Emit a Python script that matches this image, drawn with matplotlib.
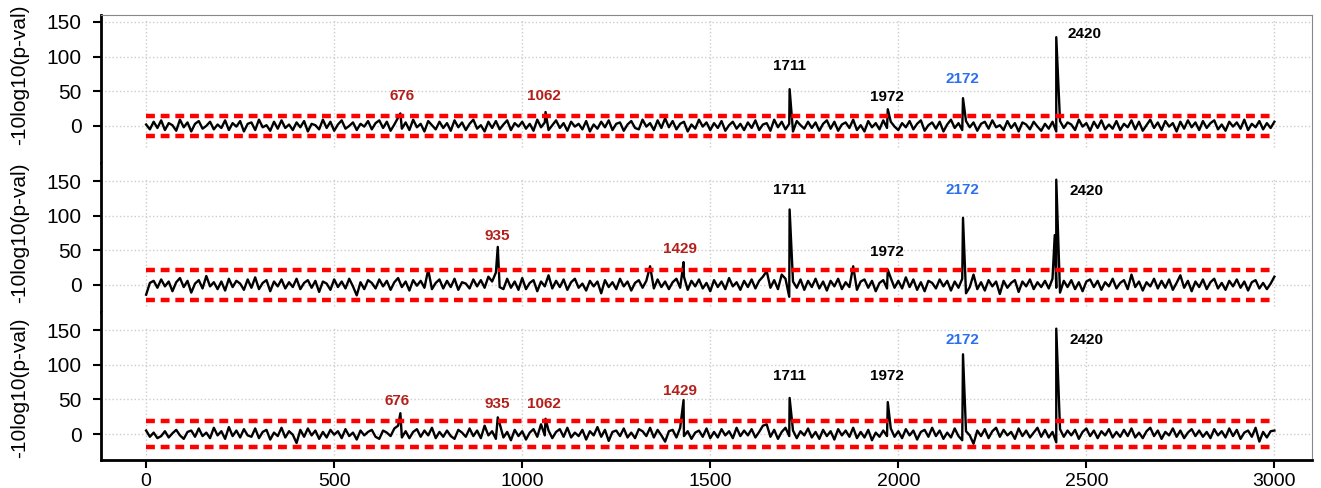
import numpy as np
import matplotlib
matplotlib.use("Agg")
import matplotlib.pyplot as plt

plt.rcParams['font.family'] = ['Liberation Sans', 'DejaVu Sans']

# positions of the noise samples (every 10)
pos = np.arange(0, 3001, 10)

noise1 = [2, -5, 6, -3, 8, -6, 4, 1, -7, 9, -2, 5, -8, 3, 7, -4, 0, 6, -5, 2,
          -3, 8, -6, 4, -1, 7, -8, 3, 5, -6, 9, -2, 1, -7, 6, -4, 8, -3, 2, -6,
          5, -2, 7, -8, 3, 1, -5, 9, -3, 6, -7, 2, 8, -4, 0, 5, -6, 3, -1, 7,
          -5, 4, 8, -3, 6, -7, 2, 12, -4, 5, -6, 9, -2, 3, -8, 7, 1, -5, 6, -3,
          4, -7, 8, -2, 5, -6, 3, 9, -4, 1, -8, 6, -3, 7, -5, 2, 8, -6, 4, -1,
          6, -4, 3, -7, 9, -2, 5, -6, 1, 8, -3, 4, -7, 6, -1, 3, -5, 7, -8, 2,
          -4, 6, -2, 8, -6, 3, 5, -7, 2, 7, -3, -5, 9, -1, 4, -6, 8, -3, 11, -2,
          7, -5, 3, 6, -8, 2, -4, 9, -1, 5, -6, 4, -3, 7, -7, 1, 6, -4, 3, -6,
          5, -3, 8, -6, 2, 4, -7, 9, -2, 6, -5, 3, -8, 7, 1, -4, 6, -3, 5, -7,
          3, 8, -4, 6, -7, 2, 5, -3, 9, -6, 1, -8, 7, -2, 4, -5, 8, -3, 6, -1,
          -6, 4, -2, 7, -5, 3, 8, -7, 1, 5, -4, 6, -8, 2, 9, -3, 4, -6, 7, -2,
          5, -7, 3, 6, -4, 8, -2, 1, -6, 7, -3, 4, -8, 5, 2, -5, 6, -1, -7, 3,
          -4, 6, -8, 7, -3, 5, 2, -6, 9, -1, 4, -7, 6, -3, 8, -5, 2, -4, 7, -6,
          3, -2, 8, -5, 6, -7, 1, 9, -3, 5, -6, 7, -1, 4, -8, 6, -4, 8, -2, 5,
          -6, 7, -3, 4, 8, -5, 2, -7, 6, -1, 5, -4, 9, -6, 3, -2, 7, -5, 4, -3,
          6]

noise2 = [-14, 3, 6, -4, 8, -2, 5, -9, 4, 10, -3, 6, -11, 2, 7, -5, 13, -2, 4, -6,
          5, -8, 9, -3, 6, 2, -7, 8, -4, 11, -6, 3, 7, -9, 5, -2, 8, -5, 4, -3,
          9, -6, 3, 7, -4, 6, -10, 5, 2, -7, 8, -3, 5, -5, 9, -2, -15, 4, -6, 7,
          3, -5, 8, -2, 6, -7, 4, 10, -3, 5, -8, 7, -1, 6, -4, 22, -6, 3, 8, -5,
          6, -3, 9, -7, 4, 2, -5, 8, -2, 7, -4, 12, 5, 18, -3, -6, 9, -4, 5, -7,
          10, -6, 3, 7, -9, 5, -2, 14, -5, 6, -3, 8, -7, 4, 9, -4, 2, -8, 6, -2,
          5, -12, 7, -3, 4, -6, 9, -2, 5, -8, 3, 7, -4, 6, 27, -5, 8, -3, 5, -6,
          4, 9, -4, 12, -7, 6, -2, 8, -5, 3, -9, 7, -3, 5, -6, 10, -2, 4, -7, 6,
          -3, 8, -5, 6, 12, 20, -4, 7, -6, 15, 9, -17, 5, -4, 8, -7, 6, -3, 9, -5,
          5, -8, 6, -2, 9, -6, 4, -3, 27, -7, 5, 8, -4, 6, -9, 3, 7, -5, 10, -4,
          6, -5, 11, -3, 8, -7, 4, -9, 6, 3, -5, 8, -2, 6, -8, 5, -4, 9, -12, -3,
          15, -6, 4, -8, 7, -2, 5, -13, 6, -4, 3, 7, -10, 5, -2, 8, -6, 4, -3, 6,
          -5, 9, -4, -11, 6, -3, 7, -6, 4, -9, 5, 8, -3, 6, -7, 4, -2, 9, -5, 3,
          7, -6, 15, -3, 5, -8, 4, -2, 9, -5, 6, -4, 8, -7, 3, 14, -4, 6, -9, 5,
          -3, 8, -6, 4, 9, -5, 3, -7, 6, -2, 8, -4, 5, -8, 4, 7, -5, 3, -6, 2,
          12]

noise3 = [5, -4, 2, -6, -3, 4, -5, 1, 6, -2, -7, 3, 5, -4, 8, -3, 2, -6, 9, -2,
          4, -7, 10, -3, 5, -5, 7, -2, -4, 8, -6, 3, 6, -8, 2, -3, 9, -5, 4, -1,
          -13, 6, -4, 8, -2, 5, -7, 3, -5, 6, -1, 4, -6, 7, -3, 2, -8, 5, -2, 3,
          6, -4, -7, 5, 2, -3, 8, 12, -5, 4, -6, 3, 7, -4, 5, -2, 9, -6, 3, -4,
          5, -3, -7, 6, 2, -4, 8, -3, 5, -6, 12, -2, 4, -7, 15, -5, 3, -9, 6, -3,
          4, -8, 2, 7, -4, 14, -2, 5, -6, 3, 7, -4, 9, -5, 2, -3, 6, -8, 4, -2,
          10, -4, 6, -10, 3, 5, -3, 8, -5, 2, -6, 7, 4, -3, 9, -5, 6, -2, -11, 4,
          6, -5, 9, -3, 4, -7, 2, 5, -4, 8, -6, 3, -5, 7, -2, 4, -6, 9, -3, 5,
          -2, 7, -5, 3, 12, 14, -4, 6, -7, 3, 9, -3, 5, -6, 4, -2, 8, -5, 3, -7,
          6, -3, 4, -8, 7, -2, 5, -4, 9, -6, 3, -5, 6, -9, 2, -4, 5, -3, 8, -4,
          4, -6, 7, -2, 5, -8, 3, 6, -4, 9, -3, 5, -7, 2, -5, 8, -3, -9, 4, -2,
          -14, 5, -3, 7, -6, 4, 9, -4, 6, -2, 3, -7, 8, -3, 5, -5, 2, 9, -4, 6,
          -5, 3, -12, 7, -4, 5, -2, 6, -7, 3, 8, -3, 5, -6, 4, -2, 7, -5, 3, -4,
          6, -3, 8, -5, 2, -6, 4, 9, -3, 5, -7, 3, -2, 8, -4, 5, -6, 2, 7, -3,
          5, -4, 3, -6, 7, -2, 4, -5, 8, -3, 6, -7, 2, 5, -4, 9, -11, 3, -5, 4,
          5]

peak_x1 = [676, 1062, 1711, 1972, 2172, 2420]
peak_y1 = [18, 20, 53, 24, 40, 128]
peak_x2 = [935, 1429, 1711, 1972, 2172, 2416, 2420]
peak_y2 = [55, 33, 109, 22, 97, 72, 152]
peak_x3 = [676, 935, 1062, 1429, 1711, 1972, 2172, 2420]
peak_y3 = [30, 24, 22, 49, 52, 46, 115, 152]

lab_text1 = ['676', '1062', '1711', '1972', '2172', '2420']
lab_x1 = [681, 1058, 1710, 1971, 2170, 2495]
lab_y1 = [43, 43, 86, 41, 68, 132]
lab_col1 = ['r', 'r', 'k', 'k', 'b', 'k']

lab_text2 = ['935', '1429', '1711', '1972', '2172', '2420']
lab_x2 = [933, 1420, 1710, 1971, 2170, 2500]
lab_y2 = [71, 52, 137, 48, 137, 136]
lab_col2 = ['r', 'r', 'k', 'k', 'b', 'k']

lab_text3 = ['676', '935', '1062', '1429', '1711', '1972', '2172', '2420']
lab_x3 = [667, 933, 1058, 1420, 1710, 1971, 2170, 2500]
lab_y3 = [47, 44, 44, 62, 84, 84, 136, 136]
lab_col3 = ['r', 'r', 'r', 'r', 'k', 'k', 'b', 'k']

thresholds = [15, 21, 19]
ylims = [(-54, 160), (-38.5, 175.6), (-37.5, 176.5)]
label_ypos = [0.6, 0.53, 0.49]

colors = {'r': '#b3201c', 'k': 'black', 'b': '#2a6ff0'}

panels = [(noise1, peak_x1, peak_y1, lab_text1, lab_x1, lab_y1, lab_col1),
          (noise2, peak_x2, peak_y2, lab_text2, lab_x2, lab_y2, lab_col2),
          (noise3, peak_x3, peak_y3, lab_text3, lab_x3, lab_y3, lab_col3)]

fig = plt.figure(figsize=(13.21, 4.88), dpi=100)
left, right, top, bottom = 101 / 1321, 1312 / 1321, 1 - 15 / 488, 1 - 460 / 488
h = (top - bottom) / 3

for i, (noise, px, py, lt, lx, ly, lc) in enumerate(panels):
    ax = fig.add_axes([left, top - (i + 1) * h, right - left, h])

    x = np.concatenate([pos, px])
    y = np.concatenate([noise, py])
    order = np.argsort(x, kind='stable')
    ax.plot(x[order], y[order], color='black', lw=1.7, zorder=3)

    t = thresholds[i]
    ax.hlines([t, -t], 0, 3000, colors='#ff0000', linestyles=(0, (2, 1.3)),
              lw=3.2, zorder=4)

    for txt, tx, ty, c in zip(lt, lx, ly, lc):
        ax.text(tx, ty, txt, color=colors[c], fontsize=11, fontweight='bold',
                ha='center', va='center', zorder=5)

    ax.set_xlim(-120, 3100)
    ax.set_ylim(*ylims[i])
    ax.set_yticks([0, 50, 100, 150])
    ax.grid(axis='y', color='#cccccc', linestyle=':', lw=1)
    ax.vlines(np.arange(0, 3001, 500), -30, 155, colors='#cccccc',
              linestyles=':', lw=1, zorder=0)

    ax.tick_params(axis='y', labelsize=15, direction='out', length=6, width=1.5,
                   pad=8)
    ax.set_ylabel('-10log10(p-val)', fontsize=15)
    ax.yaxis.set_label_coords(-0.059, label_ypos[i])

    ax.spines['left'].set_linewidth(2)
    ax.spines['right'].set_color('#888888')
    ax.spines['top'].set_visible(i == 0)
    ax.spines['top'].set_color('#888888')
    ax.spines['bottom'].set_visible(i == 2)
    ax.spines['bottom'].set_linewidth(2)

    if i == 2:
        ax.set_xticks(np.arange(0, 3001, 500))
        ax.tick_params(axis='x', labelsize=14, direction='out', length=6, width=1.5)
    else:
        ax.tick_params(axis='x', bottom=False, labelbottom=False)

fig.savefig('out.png', dpi=100)
